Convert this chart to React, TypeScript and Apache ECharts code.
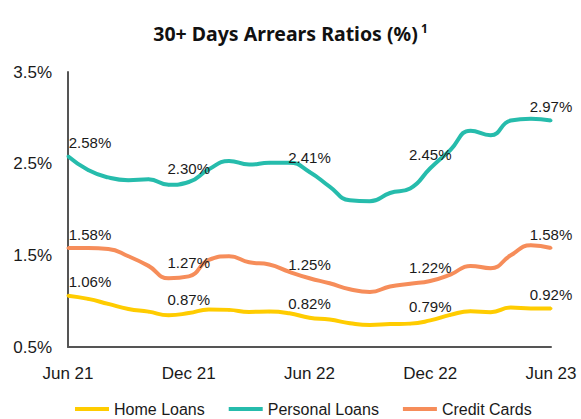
import React, { useEffect, useRef } from "react";
import * as echarts from "echarts";

const months = [
  "Jun 21", "Jul 21", "Aug 21", "Sep 21", "Oct 21", "Nov 21", "Dec 21",
  "Jan 22", "Feb 22", "Mar 22", "Apr 22", "May 22", "Jun 22",
  "Jul 22", "Aug 22", "Sep 22", "Oct 22", "Nov 22", "Dec 22",
  "Jan 23", "Feb 23", "Mar 23", "Apr 23", "May 23", "Jun 23",
];

const homeLoans = [1.06, 1.025, 0.97, 0.915, 0.886, 0.847, 0.87, 0.91, 0.905, 0.883, 0.886, 0.868, 0.82, 0.8, 0.76, 0.74, 0.75, 0.755, 0.79, 0.85, 0.89, 0.88, 0.93, 0.92, 0.92];
const personalLoans = [2.58, 2.43, 2.35, 2.32, 2.33, 2.27, 2.3, 2.44, 2.53, 2.49, 2.51, 2.51, 2.41, 2.25, 2.1, 2.09, 2.18, 2.23, 2.45, 2.65, 2.86, 2.81, 2.97, 2.99, 2.97];
const creditCards = [1.58, 1.58, 1.57, 1.49, 1.385, 1.25, 1.27, 1.45, 1.49, 1.425, 1.4, 1.32, 1.25, 1.195, 1.13, 1.1, 1.16, 1.19, 1.22, 1.29, 1.385, 1.36, 1.5, 1.61, 1.58];

const labelledIdx = [0, 6, 12, 18, 24];

const seriesNames = ["Home Loans", "Personal Loans", "Credit Cards"];
const colors = ["#FFCC00", "#26BCAC", "#F68D5A"];

const FONT = "'Liberation Sans', Arial, sans-serif";

function buildData(values: number[]) {
  return values.map((v, i) => {
    if (!labelledIdx.includes(i)) return { value: v };
    return {
      value: v,
      label: {
        show: true,
        position: "top",
        distance: 5,
        offset: i === 0 ? [22, 0] : [0, 0],
        formatter: (p: any) => p.value.toFixed(2) + "%",
        fontSize: 15,
        fontFamily: FONT,
        color: "#1a1a1a",
      },
    };
  });
}

export default function App() {
  const ref = useRef<HTMLDivElement>(null);
  useEffect(() => {
    if (!ref.current) return;
    const chart = echarts.init(ref.current, undefined, { renderer: "svg" });
    const all = [homeLoans, personalLoans, creditCards];
    chart.setOption({
      animation: false,
      backgroundColor: "#ffffff",
      title: {
        text: "{a|30+ Days Arrears Ratios (%)}{b| 1}",
        left: "center",
        top: 17,
        textStyle: {
          rich: {
            a: { fontSize: 19.5, fontWeight: "bold", fontFamily: "'Noto Sans', sans-serif", color: "#111" },
            b: { fontSize: 12, fontWeight: "bold", fontFamily: "'Noto Sans', sans-serif", color: "#111", verticalAlign: "top", padding: [0, 0, 10, 0] },
          },
        },
      },
      legend: {
        data: seriesNames.map((n) => ({ name: n, icon: "rect" })),
        left: 75,
        top: 401,
        padding: 0,
        itemWidth: 34,
        itemHeight: 4,
        itemGap: 24,
        textStyle: { fontSize: 16, fontFamily: FONT, color: "#1a1a1a" },
      },
      grid: { left: 68, right: 30, top: 72, bottom: 72, containLabel: false },
      xAxis: {
        type: "category",
        data: months,
        boundaryGap: false,
        axisLine: { show: true, lineStyle: { color: "#555555", width: 2 } },
        axisTick: { show: false },
        axisLabel: {
          interval: 5,
          margin: 18,
          fontSize: 17,
          fontFamily: FONT,
          color: "#1a1a1a",
        },
        splitLine: { show: false },
      },
      yAxis: {
        type: "value",
        min: 0.5,
        max: 3.5,
        interval: 1,
        axisLine: { show: true, lineStyle: { color: "#555555", width: 2 } },
        axisTick: { show: false },
        splitLine: { show: false },
        axisLabel: {
          margin: 16,
          fontSize: 17,
          fontFamily: FONT,
          color: "#1a1a1a",
          formatter: (v: number) => v.toFixed(1) + "%",
        },
      },
      series: seriesNames.map((name, k) => ({
        name,
        type: "line",
        smooth: 0.5,
        data: buildData(all[k]),
        symbol: "circle",
        symbolSize: 3,
        showSymbol: true,
        showAllSymbol: true,
        itemStyle: { color: colors[k] },
        lineStyle: { color: colors[k], width: 4 },
        label: { show: false },
        z: 2 + k,
      })),
    });
    return () => chart.dispose();
  }, []);
  return (
    <div
      ref={ref}
      style={{ position: "fixed", left: 0, top: 0, width: 581, height: 419 }}
    />
  );
}
